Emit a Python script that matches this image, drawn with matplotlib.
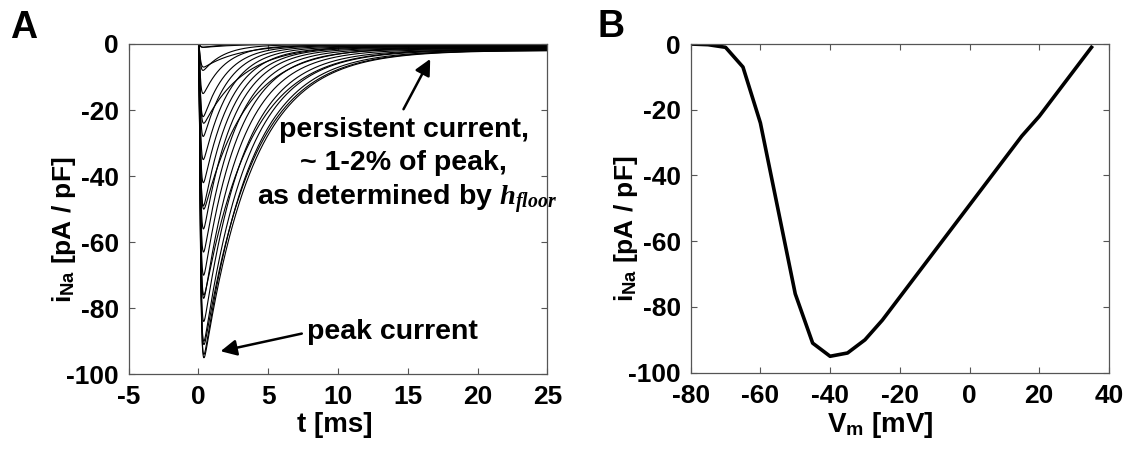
import matplotlib
matplotlib.use('Agg')
import numpy as np
import matplotlib.pyplot as plt

plt.rcParams['font.family'] = 'Liberation Sans'
plt.rcParams['font.weight'] = 'bold'
plt.rcParams['axes.unicode_minus'] = False
plt.rcParams['mathtext.fontset'] = 'custom'
plt.rcParams['mathtext.rm'] = 'Liberation Sans:bold'
plt.rcParams['mathtext.bf'] = 'Liberation Sans:bold'
plt.rcParams['mathtext.sf'] = 'Liberation Sans'
plt.rcParams['mathtext.it'] = 'Liberation Serif:bold:italic'

# step potentials (mV) and peak current (pA/pF)
step_v = [-80, -75, -70, -65, -60, -55, -50, -45, -40, -35, -30, -25,
          -20, -15, -10, -5, 0, 5, 10, 15, 20, 25, 30, 35]
peak_i = [0, -0.2, -1, -7, -24, -50, -76, -91, -95, -94, -90, -84,
          -77, -70, -63, -56, -49, -42, -35, -28, -22, -15, -8, -1]
# inactivation time constant of each trace (ms), estimated from panel A
tau_h = [2.4, 2.4, 2.5, 2.6, 2.8, 3.0, 3.3, 3.5, 3.5, 3.3, 3.1, 2.9,
         2.7, 2.5, 2.35, 2.2, 2.1, 2.0, 1.9, 1.8, 1.7, 1.6, 1.5, 1.4]
tau_m = 0.08          # activation time constant (ms)
persist_frac = 0.018  # persistent current, fraction of peak

fig = plt.figure(figsize=(11.28, 4.51), dpi=100)
axA = fig.add_axes([0.1141, 0.1701, 0.3711, 0.7324])
axB = fig.add_axes([0.6123, 0.1736, 0.3708, 0.7288])

# --- panel A: current traces ---
t = np.linspace(0, 25, 2501)
for pk, th in zip(peak_i, tau_h):
    shape = (1 - np.exp(-t / tau_m)) ** 3 * ((1 - persist_frac) * np.exp(-t / th) + persist_frac)
    trace = pk * shape / shape.max()
    axA.plot(t, trace, color='black', lw=0.8)

axA.set_xlim(-5, 25)
axA.set_ylim(-100, 0)
axA.set_xticks([-5, 0, 5, 10, 15, 20, 25])
axA.set_yticks([-100, -80, -60, -40, -20, 0])
axA.text(0.493, -0.153, 't [ms]', transform=axA.transAxes, ha='center', va='center',
         fontsize=20, fontweight='bold')
axA.text(-0.155, 0.437, r'$\mathrm{i}_{\mathsf{Na}}$ [pA / pF]', transform=axA.transAxes,
         ha='center', va='center', rotation=90, fontsize=19, fontweight='bold')

ann = dict(fontsize=20.5, fontweight='bold', ha='center', va='center')
axA.annotate('', xy=(16.7, -3.8), xytext=(14.6, -20.5),
             arrowprops=dict(arrowstyle='-|>', color='black', lw=1.8, mutation_scale=24))
axA.text(14.7, -26, 'persistent current,', **ann)
axA.text(14.7, -36, '~ 1-2% of peak,', **ann)
axA.text(14.95, -47, r'as determined by $h_{floor}$', **ann)
axA.annotate('', xy=(1.39, -93.2), xytext=(7.6, -87.5),
             arrowprops=dict(arrowstyle='-|>', color='black', lw=1.8, mutation_scale=24))
axA.text(7.8, -87.1, 'peak current', fontsize=20.5, fontweight='bold', ha='left', va='center')

# --- panel B: peak I-V curve ---
axB.plot(step_v, peak_i, color='black', lw=2.6, solid_joinstyle='round')
axB.set_xlim(-80, 40)
axB.set_ylim(-100, 0)
axB.set_xticks([-80, -60, -40, -20, 0, 20, 40])
axB.set_yticks([-100, -80, -60, -40, -20, 0])
axB.text(0.4525, -0.16, r'$\mathrm{V}_{\mathsf{m}}$ [mV]', transform=axB.transAxes,
         ha='center', va='center', fontsize=20, fontweight='bold')
axB.text(-0.155, 0.437, r'$\mathrm{i}_{\mathsf{Na}}$ [pA / pF]', transform=axB.transAxes,
         ha='center', va='center', rotation=90, fontsize=19, fontweight='bold')

for ax in (axA, axB):
    ax.tick_params(direction='in', top=True, right=True, length=4, width=0.8,
                   labelsize=19, color='#555555')
    ax.tick_params(axis='x', pad=8)
    ax.tick_params(axis='y', pad=7)
    for lab in ax.get_xticklabels() + ax.get_yticklabels():
        lab.set_fontweight('bold')
    for sp in ax.spines.values():
        sp.set_color('#555555')
        sp.set_linewidth(0.9)

fig.text(0.0213, 0.939, 'A', fontsize=27, fontweight='bold', ha='center', va='center')
fig.text(0.542, 0.94, 'B', fontsize=27, fontweight='bold', ha='center', va='center')

fig.savefig('out.png', dpi=100)
